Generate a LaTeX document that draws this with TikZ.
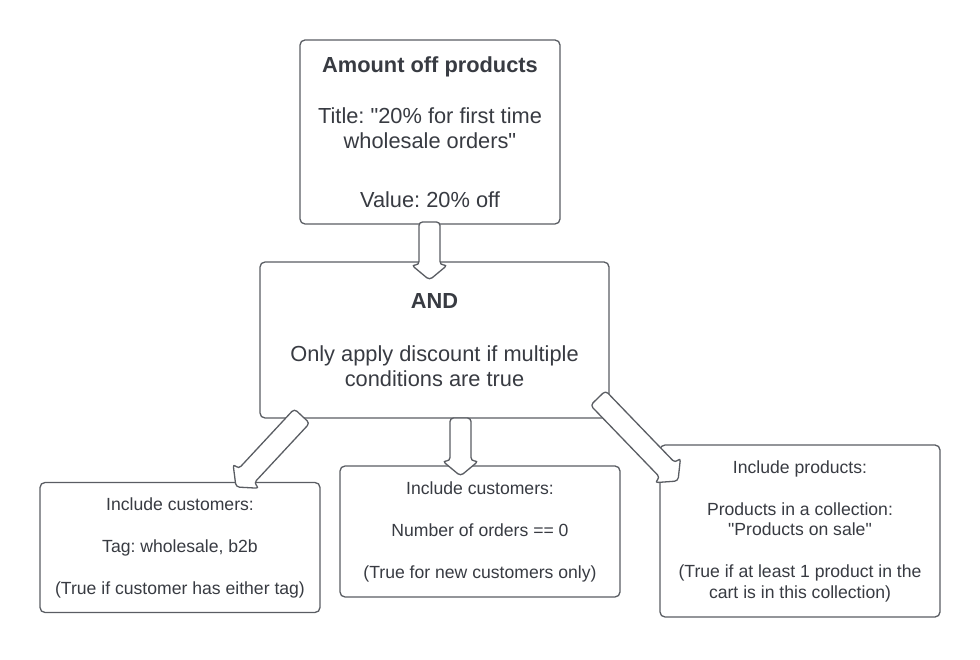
\documentclass[tikz,border=0pt]{standalone}
\usepackage{fontspec}
\setmainfont{Liberation Sans}[Ligatures=TeXOff]
\usetikzlibrary{calc}
\definecolor{ln}{HTML}{5A5D63}
\definecolor{tx}{HTML}{383B42}
\newcommand\blockarrow[2]{%
\draw[barrow] let \p1=($(#2)-(#1)$), \n1={atan2(\y1,\x1)}, \n2={veclen(\x1,\y1)} in
 ($(#1)+(\n1+90:10.5)$) -- ($(#1)+(\n1+90:10.5)+(\n1:\n2-15)$) -- ($(#1)+(\n1+90:18)+(\n1:\n2-15)$) -- (#2) -- ($(#1)+(\n1-90:18)+(\n1:\n2-15)$) -- ($(#1)+(\n1-90:10.5)+(\n1:\n2-15)$) -- ($(#1)+(\n1-90:10.5)$) -- cycle;}
\frenchspacing
\begin{document}
\begin{tikzpicture}[x=1pt,y=1pt,
  box/.style={draw=ln, line width=1.3pt, rounded corners=5pt, fill=white, text=tx, align=center, inner sep=0pt},
  big/.style={font=\fontsize{21.8}{25}\selectfont},
  small/.style={font=\fontsize{17.6}{20.5}\selectfont},
  barrow/.style={draw=ln, line width=1.3pt, fill=white, rounded corners=3.5pt, line join=round}]
\useasboundingbox (0,0) rectangle (980,659);
\node[box, big, minimum width=260, minimum height=184] (top) at (430,527)
  {\textbf{Amount off products}\\[26.7pt] Title: "20\% for first time\\ wholesale orders"\\[33.3pt] Value: 20\% off};
\node[box, big, minimum width=349, minimum height=156] (and) at (434.5,319)
  {\textbf{AND}\\[27.9pt] Only apply discount if multiple\\ conditions are true};
\node[box, small, minimum width=280, minimum height=130] (left) at (180,111.5)
  {Include customers:\\[21.5pt] Tag: wholesale, b2b\\[21.5pt] (True if customer has either tag)};
\node[box, small, minimum width=280, minimum height=131] (mid) at (480,127.5)
  {Include customers:\\[21.5pt] Number of orders == 0\\[21.5pt] (True for new customers only)};
\node[box, small, minimum width=280, minimum height=172] (right) at (800,128)
  {Include products:\\[21.5pt] Products in a collection:\\ "Products on sale"\\[21.5pt] (True if at least 1 product in the\\ cart is in this collection)};
\coordinate (a1s) at (429.5,437);
\coordinate (a1e) at (429.5,379);
\coordinate (a2s) at (460.5,241);
\coordinate (a2e) at (460.5,183);
\coordinate (a3s) at (302,243);
\coordinate (a3e) at (236,172);
\coordinate (a4s) at (598,261);
\coordinate (a4e) at (678,178);
\blockarrow{a1s}{a1e}
\blockarrow{a2s}{a2e}
\blockarrow{a3s}{a3e}
\blockarrow{a4s}{a4e}
\end{tikzpicture}
\end{document}
